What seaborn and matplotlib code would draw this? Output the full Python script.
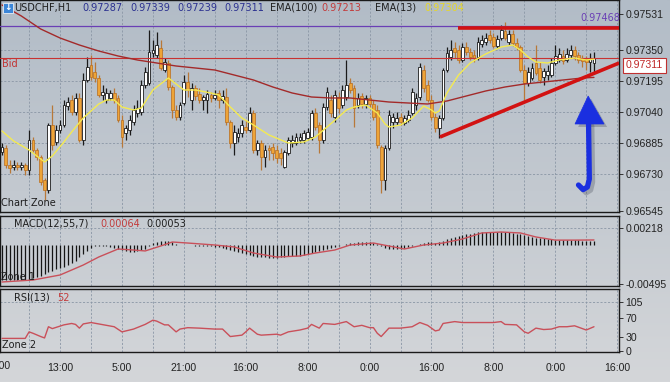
import numpy as np
import pandas as pd
import matplotlib
matplotlib.use("Agg")
import matplotlib.pyplot as plt
import seaborn as sns
from matplotlib import font_manager as fm
from matplotlib.patches import Polygon, Rectangle

# ---------------- data ----------------
opens = [0.96840, 0.96860, 0.96775, 0.96765, 0.96775, 0.96765, 0.96775, 0.96750, 0.96900, 0.96850,
         0.96815, 0.96700, 0.96650, 0.96975, 0.96890, 0.96950, 0.96975, 0.97070, 0.97100, 0.97040,
         0.97110, 0.96900, 0.97200, 0.97275, 0.97240, 0.97210, 0.97125, 0.97100, 0.97110, 0.97135,
         0.97110, 0.97000, 0.96935, 0.96950, 0.96990, 0.97035, 0.97040, 0.97175, 0.97185, 0.97335,
         0.97325, 0.97360, 0.97250, 0.97285, 0.97165, 0.97050, 0.97015, 0.97085, 0.97190, 0.97100,
         0.97160, 0.97130, 0.97100, 0.97100, 0.97125, 0.97110, 0.97135, 0.97100, 0.97115, 0.96990,
         0.96885, 0.96915, 0.96935, 0.96965, 0.96950, 0.97035, 0.96850, 0.96885, 0.96815, 0.96860,
         0.96865, 0.96850, 0.96835, 0.96765, 0.96835, 0.96885, 0.96885, 0.96900, 0.96900, 0.96910,
         0.96915, 0.97035, 0.96975, 0.96900, 0.97065, 0.97100, 0.97015, 0.97115, 0.97075, 0.97115,
         0.97185, 0.97160, 0.97075, 0.97120, 0.97080, 0.97110, 0.97080, 0.97050, 0.96865, 0.96700,
         0.96860, 0.96990, 0.96990, 0.97015, 0.96985, 0.97000, 0.97035, 0.97075, 0.97115, 0.97250,
         0.97175, 0.97100, 0.97015, 0.96960, 0.97010, 0.97250, 0.97315, 0.97360, 0.97350, 0.97300,
         0.97365, 0.97340, 0.97325, 0.97315, 0.97380, 0.97390, 0.97425, 0.97415, 0.97370, 0.97410,
         0.97445, 0.97390, 0.97430, 0.97385, 0.97365, 0.97250, 0.97185, 0.97210, 0.97285, 0.97260,
         0.97215, 0.97225, 0.97225, 0.97285, 0.97300, 0.97320, 0.97300, 0.97325, 0.97350, 0.97325,
         0.97310, 0.97305, 0.97290, 0.97287]
highs = [0.96885, 0.96875, 0.96800, 0.96800, 0.96790, 0.96790, 0.96785, 0.96950, 0.96915, 0.96860,
         0.96825, 0.96710, 0.96985, 0.97075, 0.96975, 0.97000, 0.97100, 0.97115, 0.97125, 0.97135,
         0.97135, 0.97235, 0.97315, 0.97325, 0.97290, 0.97225, 0.97175, 0.97160, 0.97150, 0.97160,
         0.97125, 0.97025, 0.96975, 0.97025, 0.97075, 0.97100, 0.97200, 0.97265, 0.97450, 0.97400,
         0.97440, 0.97400, 0.97310, 0.97300, 0.97175, 0.97075, 0.97090, 0.97225, 0.97240, 0.97185,
         0.97175, 0.97160, 0.97125, 0.97150, 0.97140, 0.97150, 0.97150, 0.97150, 0.97160, 0.97000,
         0.96975, 0.96960, 0.97000, 0.97000, 0.97065, 0.97050, 0.96900, 0.96900, 0.96875, 0.96875,
         0.96885, 0.96875, 0.96860, 0.96850, 0.96915, 0.96925, 0.96935, 0.96935, 0.96950, 0.96960,
         0.97050, 0.97060, 0.96990, 0.97085, 0.97165, 0.97125, 0.97150, 0.97140, 0.97175, 0.97300,
         0.97210, 0.97175, 0.97135, 0.97135, 0.97125, 0.97125, 0.97100, 0.97075, 0.96875, 0.96875,
         0.97050, 0.97035, 0.97040, 0.97035, 0.97025, 0.97050, 0.97160, 0.97135, 0.97285, 0.97275,
         0.97200, 0.97125, 0.97035, 0.97025, 0.97260, 0.97365, 0.97400, 0.97390, 0.97375, 0.97385,
         0.97390, 0.97360, 0.97350, 0.97415, 0.97425, 0.97435, 0.97450, 0.97435, 0.97425, 0.97475,
         0.97490, 0.97450, 0.97450, 0.97410, 0.97375, 0.97275, 0.97265, 0.97285, 0.97375, 0.97290,
         0.97260, 0.97275, 0.97310, 0.97375, 0.97360, 0.97350, 0.97360, 0.97375, 0.97370, 0.97340,
         0.97325, 0.97320, 0.97335, 0.97339]
lows = [0.96825, 0.96760, 0.96735, 0.96750, 0.96750, 0.96750, 0.96725, 0.96725, 0.96840, 0.96800,
        0.96675, 0.96600, 0.96635, 0.96850, 0.96875, 0.96935, 0.96965, 0.97050, 0.97025, 0.97025,
        0.96890, 0.96875, 0.97190, 0.97200, 0.97190, 0.97115, 0.97100, 0.97085, 0.97100, 0.97085,
        0.96990, 0.96865, 0.96900, 0.96925, 0.96975, 0.97015, 0.97025, 0.97160, 0.97175, 0.97315,
        0.97310, 0.97250, 0.97240, 0.97150, 0.97010, 0.97000, 0.97000, 0.97075, 0.97115, 0.97050,
        0.97100, 0.97085, 0.97050, 0.97035, 0.97090, 0.97100, 0.97060, 0.97085, 0.96975, 0.96860,
        0.96825, 0.96890, 0.96915, 0.96935, 0.96940, 0.96835, 0.96825, 0.96750, 0.96765, 0.96800,
        0.96800, 0.96785, 0.96775, 0.96760, 0.96825, 0.96865, 0.96875, 0.96885, 0.96885, 0.96900,
        0.96900, 0.96950, 0.96835, 0.96885, 0.97050, 0.97015, 0.96990, 0.97035, 0.97060, 0.97100,
        0.97135, 0.96965, 0.97060, 0.97060, 0.97060, 0.97060, 0.97000, 0.96860, 0.96635, 0.96650,
        0.96850, 0.96960, 0.96975, 0.96975, 0.96975, 0.96990, 0.97025, 0.97050, 0.97100, 0.97140,
        0.97090, 0.97000, 0.96940, 0.96910, 0.97000, 0.97240, 0.97300, 0.97310, 0.97285, 0.97290,
        0.97325, 0.97300, 0.97290, 0.97300, 0.97365, 0.97375, 0.97385, 0.97360, 0.97360, 0.97400,
        0.97400, 0.97375, 0.97370, 0.97350, 0.97240, 0.97100, 0.97170, 0.97200, 0.97225, 0.97185,
        0.97175, 0.97200, 0.97215, 0.97275, 0.97290, 0.97280, 0.97290, 0.97310, 0.97300, 0.97285,
        0.97265, 0.97250, 0.97240, 0.97239]
closes = [0.96865, 0.96775, 0.96760, 0.96775, 0.96765, 0.96775, 0.96750, 0.96900, 0.96850, 0.96815,
          0.96690, 0.96650, 0.96975, 0.96875, 0.96950, 0.96975, 0.97075, 0.97090, 0.97040, 0.97110,
          0.96900, 0.97200, 0.97265, 0.97215, 0.97210, 0.97125, 0.97140, 0.97135, 0.97135, 0.97100,
          0.97000, 0.96915, 0.96960, 0.97000, 0.97050, 0.97060, 0.97175, 0.97240, 0.97340, 0.97350,
          0.97375, 0.97260, 0.97290, 0.97165, 0.97050, 0.97015, 0.97075, 0.97190, 0.97150, 0.97160,
          0.97120, 0.97100, 0.97115, 0.97130, 0.97110, 0.97125, 0.97100, 0.97120, 0.96990, 0.96885,
          0.96940, 0.96935, 0.96975, 0.96950, 0.97035, 0.96850, 0.96885, 0.96815, 0.96850, 0.96850,
          0.96835, 0.96810, 0.96810, 0.96840, 0.96900, 0.96900, 0.96915, 0.96915, 0.96935, 0.96940,
          0.97035, 0.96965, 0.96900, 0.97065, 0.97140, 0.97035, 0.97125, 0.97060, 0.97150, 0.97175,
          0.97150, 0.97060, 0.97110, 0.97080, 0.97110, 0.97080, 0.97015, 0.96875, 0.96700, 0.96860,
          0.97025, 0.97015, 0.97010, 0.96990, 0.97010, 0.97025, 0.97140, 0.97110, 0.97265, 0.97160,
          0.97100, 0.97015, 0.96960, 0.97010, 0.97250, 0.97335, 0.97350, 0.97340, 0.97300, 0.97365,
          0.97340, 0.97315, 0.97310, 0.97390, 0.97400, 0.97410, 0.97400, 0.97370, 0.97405, 0.97450,
          0.97410, 0.97430, 0.97385, 0.97365, 0.97250, 0.97185, 0.97240, 0.97260, 0.97235, 0.97200,
          0.97245, 0.97245, 0.97285, 0.97320, 0.97330, 0.97295, 0.97330, 0.97350, 0.97320, 0.97300,
          0.97295, 0.97290, 0.97305, 0.97311]

ema100_bar = [0, 5, 10, 15, 20, 25, 30, 35, 40, 45, 50, 55, 60, 65, 70, 75, 80, 85, 90, 95,
              100, 105, 110, 115, 120, 125, 130, 135, 140, 145, 150, 153]
ema100_val = [0.97575, 0.97520, 0.97455, 0.97410, 0.97375, 0.97345, 0.97320, 0.97300, 0.97285, 0.97270,
              0.97260, 0.97250, 0.97225, 0.97200, 0.97165, 0.97135, 0.97115, 0.97110, 0.97110, 0.97100,
              0.97090, 0.97085, 0.97080, 0.97095, 0.97120, 0.97145, 0.97165, 0.97180, 0.97190, 0.97200,
              0.97210, 0.97213]
ema13_bar = [0, 3, 7, 11, 13, 16, 18, 21, 25, 27, 29, 31, 34, 36, 39, 42, 43, 45, 47, 50,
             54, 56, 59, 62, 65, 69, 74, 78, 81, 84, 87, 89, 91, 94, 97, 99, 100, 103, 106, 109,
             111, 112, 113, 115, 118, 121, 125, 129, 132, 134, 136, 138, 141, 144, 148, 151, 153]
ema13_val = [0.96945, 0.96895, 0.96850, 0.96790, 0.96820, 0.96890, 0.96940, 0.97010, 0.97080, 0.97100,
             0.97100, 0.97065, 0.97050, 0.97060, 0.97150, 0.97195, 0.97210, 0.97180, 0.97150, 0.97150,
             0.97135, 0.97125, 0.97065, 0.97010, 0.96975, 0.96925, 0.96885, 0.96890, 0.96915, 0.96965,
             0.97015, 0.97050, 0.97065, 0.97075, 0.97035, 0.96980, 0.96965, 0.96975, 0.97010, 0.97070,
             0.97050, 0.97035, 0.97045, 0.97135, 0.97225, 0.97285, 0.97330, 0.97365, 0.97375, 0.97350,
             0.97315, 0.97290, 0.97285, 0.97300, 0.97310, 0.97300, 0.97304]

macd_hist = [-0.00446, -0.00446, -0.00446, -0.00446, -0.00446, -0.00446, -0.00446, -0.00446, -0.00420, -0.00407,
             -0.00395, -0.00369, -0.00344, -0.00331, -0.00306, -0.00293, -0.00280, -0.00255, -0.00229, -0.00204,
             -0.00153, -0.00115, -0.00076, -0.00038, -0.00019, -0.00013, -0.00013, -0.00019, -0.00025, -0.00038,
             -0.00051, -0.00064, -0.00076, -0.00083, -0.00083, -0.00076, -0.00064, -0.00045, -0.00013, 0.00019,
             0.00038, 0.00051, 0.00051, 0.00045, 0.00032, 0.00013, -0.00003, -0.00006, 0.00003, -0.00006,
             -0.00010, -0.00010, -0.00010, -0.00015, -0.00015, -0.00020, -0.00025, -0.00038, -0.00051, -0.00064,
             -0.00076, -0.00089, -0.00102, -0.00115, -0.00127, -0.00140, -0.00153, -0.00153, -0.00153, -0.00165,
             -0.00165, -0.00165, -0.00159, -0.00153, -0.00146, -0.00140, -0.00140, -0.00134, -0.00127, -0.00115,
             -0.00102, -0.00089, -0.00076, -0.00064, -0.00051, -0.00038, -0.00025, -0.00013, 0.00003, 0.00013,
             0.00019, 0.00025, 0.00032, 0.00038, 0.00038, 0.00032, 0.00025, 0.00013, -0.00013, -0.00032,
             -0.00045, -0.00051, -0.00051, -0.00045, -0.00038, -0.00025, -0.00013, 0.00003, 0.00013, 0.00025,
             0.00032, 0.00032, 0.00025, 0.00032, 0.00051, 0.00070, 0.00089, 0.00102, 0.00115, 0.00127,
             0.00140, 0.00146, 0.00153, 0.00159, 0.00165, 0.00165, 0.00165, 0.00165, 0.00165, 0.00165,
             0.00165, 0.00159, 0.00153, 0.00146, 0.00140, 0.00127, 0.00115, 0.00102, 0.00095, 0.00089,
             0.00083, 0.00076, 0.00070, 0.00064, 0.00062, 0.00062, 0.00060, 0.00060, 0.00058, 0.00058,
             0.00056, 0.00055, 0.00054, 0.00053]
signal_bar = [0, 8, 15, 21, 25, 30, 34, 37, 41, 44, 48, 55, 60, 65, 71, 77, 81, 86, 90, 96,
              100, 104, 109, 114, 119, 124, 129, 134, 138, 143, 148, 153]
signal_val = [-0.00471, -0.00446, -0.00382, -0.00255, -0.00153, -0.00051, -0.00064, -0.00076, -0.00013, 0.00038,
              0.00025, 0.0, -0.00025, -0.00102, -0.00153, -0.00140, -0.00102, -0.00064, 0.0, 0.00025,
              -0.00013, -0.00051, 0.0, 0.00025, 0.00076, 0.00153, 0.00165, 0.00153, 0.00102, 0.00062,
              0.00062, 0.00064]

rsi_bar = [0, 6, 7, 8, 10, 11, 12, 13, 16, 18, 19, 20, 21, 23, 25, 29, 31, 34, 37, 39,
           40, 42, 43, 45, 46, 48, 51, 55, 57, 59, 62, 63, 64, 66, 67, 71, 72, 74, 77, 79,
           80, 82, 83, 86, 89, 91, 93, 95, 96, 97, 98, 100, 103, 106, 108, 110, 112, 113, 114, 117,
           119, 122, 127, 129, 130, 133, 135, 136, 138, 140, 142, 144, 146, 148, 151, 153]
rsi_val = [27, 27, 41, 38, 31, 28, 52, 48, 56, 59, 57, 49, 58, 61, 58, 52, 41, 47, 57, 66,
           64, 56, 56, 41, 47, 50, 49, 47, 47, 31, 34, 41, 49, 36, 34, 36, 34, 41, 45, 49,
           57, 49, 59, 57, 63, 52, 55, 50, 50, 38, 31, 49, 49, 52, 61, 55, 43, 45, 59, 63,
           61, 61, 61, 63, 57, 56, 41, 38, 49, 46, 47, 52, 52, 54, 45, 52]

price_ticks = [0.97531, 0.97350, 0.97195, 0.97040, 0.96885, 0.96730, 0.96545]
price_tick_labels = ["0.97531", "0.97350", "0.97195", "0.97040", "0.96885", "0.96730", "0.96545"]
macd_ticks = [0.00218, -0.00495]
macd_tick_labels = ["0.00218", "-0.00495"]
rsi_ticks = [105, 70, 30, 0]
rsi_tick_labels = ["105", "70", "30", "0"]
time_bars = [-1, 15, 31, 47, 63, 79, 95, 111, 127, 143, 159]
time_labels = ["21:00", "13:00", "5:00", "21:00", "16:00", "8:00", "0:00", "16:00", "8:00", "0:00", "16:00"]

bid_price = 0.97311
level_price = 0.97468
resist_bar = [117.9, 159.5]
resist_price = [0.97460, 0.97460]
trend_bar = [113.2, 159.5]
trend_price = [0.96915, 0.97285]
arrow_shaft_bar = [149.0, 150.2, 151.3, 151.8, 151.6]
arrow_shaft_price = [0.96675, 0.96652, 0.96665, 0.96705, 0.96985]
arrow_head_bar = [148.1, 155.6, 151.5]
arrow_head_price = [0.96980, 0.96980, 0.97120]

# ---------------- styling ----------------
sns.set_style("white")
plt.rcParams['font.family'] = ['DejaVu Sans']
avail = {f.name for f in fm.fontManager.ttflist}
tickfont = 'Liberation Sans' if 'Liberation Sans' in avail else 'DejaVu Sans'
TXT = '#1e1e1e'
GRID = '#8a96a5'
W, H = 670, 382
TS = 7.6

def fx(px):
    return px / W

def fy(py):
    return 1 - py / H

fig = plt.figure(figsize=(6.7, 3.82), dpi=100)
bg = fig.add_axes([0, 0, 1, 1], zorder=-10)
top = np.array([178, 188, 199]) / 255
bot = np.array([212, 214, 217]) / 255
t = np.linspace(0, 1, 256)[:, None, None]
grad = top[None, None, :] * (1 - t) + bot[None, None, :] * t
bg.imshow(grad, aspect='auto', extent=[0, 1, 0, 1])
bg.axis('off')

xlim = (-0.517, 159.47)
pw = 619 / W
ax_main = fig.add_axes([0, fy(212), pw, 212 / H])
ax_macd = fig.add_axes([0, fy(286), pw, 70 / H])
ax_rsi = fig.add_axes([0, fy(352), pw, 63 / H])

for ax in (ax_main, ax_macd, ax_rsi):
    ax.set_facecolor('none')
    ax.set_xlim(*xlim)
    for s in ax.spines.values():
        s.set_color('#1a1a1a')
        s.set_linewidth(1.0)
    ax.yaxis.tick_right()
    ax.tick_params(axis='y', direction='out', length=3, width=0.7, color='#333333',
                   labelsize=TS, labelcolor='#222222', pad=1.5)
    for g in range(7, 160, 8):
        ax.axvline(g, color=GRID, lw=0.6, ls=(0, (2.5, 2)), zorder=0)

ax_main.set_ylim(0.96540, 0.97600)
ax_macd.set_ylim(-0.00522, 0.00369)
ax_rsi.set_ylim(-2.1, 132.8)

# ---------- main candle panel ----------
o = np.array(opens); h = np.array(highs); l = np.array(lows); c = np.array(closes)
bars = np.arange(len(c))
up = c >= o
body_lo = np.minimum(o, c)
body_h = np.maximum(np.abs(c - o), 0.00002)

for v in price_ticks[1:-1]:
    ax_main.axhline(v, color=GRID, lw=0.6, ls=(0, (2.5, 2)), zorder=0)

ax_main.vlines(bars[~up], l[~up], h[~up], color='#b87838', lw=0.9, zorder=2)
ax_main.vlines(bars[up], l[up], h[up], color='#1a1a1a', lw=0.9, zorder=2)
ax_main.bar(bars[~up], body_h[~up], bottom=body_lo[~up], width=0.72, color='#eea437',
            edgecolor='#b86d1e', linewidth=0.5, zorder=3)
ax_main.bar(bars[up], body_h[up], bottom=body_lo[up], width=0.72, color='white',
            edgecolor='#1a1a1a', linewidth=0.6, zorder=3)

ax_main.axhline(bid_price, color='#c83232', lw=0.8, zorder=4)
ax_main.axhline(level_price, color='#6a3fb5', lw=0.9, zorder=4)

df100 = pd.DataFrame({'bar': ema100_bar, 'value': ema100_val})
df13 = pd.DataFrame({'bar': ema13_bar, 'value': ema13_val})
sns.lineplot(data=df100, x='bar', y='value', ax=ax_main, color='#a32a2a', lw=1.0, zorder=5,
             estimator=None, sort=False, legend=False)
sns.lineplot(data=df13, x='bar', y='value', ax=ax_main, color='#f4ea50', lw=1.0, zorder=5,
             estimator=None, sort=False, legend=False)

ax_main.plot(resist_bar, resist_price, color='#d21212', lw=2.6, solid_capstyle='butt', zorder=6)
ax_main.plot(trend_bar, trend_price, color='#d21212', lw=2.6, solid_capstyle='butt', zorder=6)

# blue arrow (with faint shadow)
sh_dx, sh_dy = 0.8, -0.00015
ax_main.plot(np.array(arrow_shaft_bar) + sh_dx, np.array(arrow_shaft_price) + sh_dy, color='#2a2f40',
             alpha=0.25, lw=4.0, solid_capstyle='round', zorder=6)
ax_main.add_patch(Polygon(np.c_[np.array(arrow_head_bar) + sh_dx, np.array(arrow_head_price) + sh_dy],
                          closed=True, fc='#2a2f40', ec='none', alpha=0.25, zorder=6))
ax_main.plot(arrow_shaft_bar, arrow_shaft_price, color='#1a2fe0', lw=3.8, solid_capstyle='round',
             solid_joinstyle='round', zorder=7)
ax_main.add_patch(Polygon(np.c_[arrow_head_bar, arrow_head_price], closed=True, fc='#1a2fe0',
                          ec='#1a2fe0', lw=0.5, zorder=7))

ax_main.set_yticks(price_ticks)
ax_main.set_yticklabels(price_tick_labels, family=tickfont)
ax_main.set_xticks([])
ax_main.set_xlabel(''); ax_main.set_ylabel('')

# ---------- MACD panel ----------
ax_macd.axhline(0.00218, color=GRID, lw=0.6, ls=(0, (2.5, 2)), zorder=0)
ax_macd.vlines(bars, 0, macd_hist, color='#151515', lw=0.9, zorder=2)
dfs = pd.DataFrame({'bar': signal_bar, 'value': signal_val})
sns.lineplot(data=dfs, x='bar', y='value', ax=ax_macd, color='#c9505a', lw=1.0, zorder=3,
             estimator=None, sort=False, legend=False)
ax_macd.set_yticks(macd_ticks)
ax_macd.set_yticklabels(macd_tick_labels, family=tickfont)
ax_macd.set_xticks([])
ax_macd.set_xlabel(''); ax_macd.set_ylabel('')

# ---------- RSI panel ----------
ax_rsi.axhline(105, color=GRID, lw=0.6, ls=(0, (2.5, 2)), zorder=0)
dfr = pd.DataFrame({'bar': rsi_bar, 'value': rsi_val})
sns.lineplot(data=dfr, x='bar', y='value', ax=ax_rsi, color='#c9505a', lw=1.0, zorder=3,
             estimator=None, sort=False, legend=False)
ax_rsi.set_yticks(rsi_ticks)
ax_rsi.set_yticklabels(rsi_tick_labels, family=tickfont)
ax_rsi.set_xticks(time_bars[1:])
ax_rsi.set_xticklabels(time_labels[1:], family=tickfont)
ax_rsi.tick_params(axis='x', length=0, pad=8, labelsize=TS, labelcolor='#222222')
ax_rsi.set_xlabel(''); ax_rsi.set_ylabel('')
fig.text(fx(-2), fy(366), time_labels[0], ha='center', va='center', fontsize=TS,
         family=tickfont, color='#222222')

# ---------- texts ----------
def ftxt(px, py, s, color=TXT, size=7, **kw):
    fig.text(fx(px), fy(py), s, color=color, fontsize=size, ha='left', va='center', **kw)

fig.add_artist(Rectangle((fx(3), fy(13)), 10 / W, 10 / H, transform=fig.transFigure,
                         fc='#3b86d8', ec='#e8eef5', lw=0.6, zorder=20))
fig.text(fx(8), fy(8), '↓', color='white', fontsize=6.5, ha='center', va='center',
         fontweight='bold', zorder=21)
ftxt(14, 8, 'USDCHF,H1')
for px, s in [(82, '0.97287'), (130, '0.97339'), (177, '0.97239'), (224, '0.97311')]:
    ftxt(px, 8, s, color='#2b3190')
ftxt(270, 8, 'EMA(100)')
ftxt(321, 8, '0.97213', color='#c23b3b')
ftxt(375, 8, 'EMA(13)')
ftxt(424, 8, '0.97304', color='#e6d62a')
ftxt(580, 18, '0.97468', color='#6a3fb5')
ftxt(2, 64, 'Bid', color='#c23232')
ftxt(1, 203, 'Chart Zone')
ftxt(14, 224, 'MACD(12,55,7)')
ftxt(100, 224, '0.00064', color='#c23b3b')
ftxt(146, 224, '0.00053')
ftxt(1, 277, 'Zone 1')
ftxt(14, 298, 'RSI(13)')
ftxt(57, 298, '52', color='#c23b3b')
ftxt(2, 345, 'Zone 2')

fig.text(fx(626), fy(65.5), '0.97311', color='#c02828', fontsize=TS, family=tickfont,
         ha='left', va='center',
         bbox=dict(boxstyle='square,pad=0.25', fc='white', ec='#c03030', lw=0.8), zorder=20)

fig.savefig('out.png', dpi=100)
